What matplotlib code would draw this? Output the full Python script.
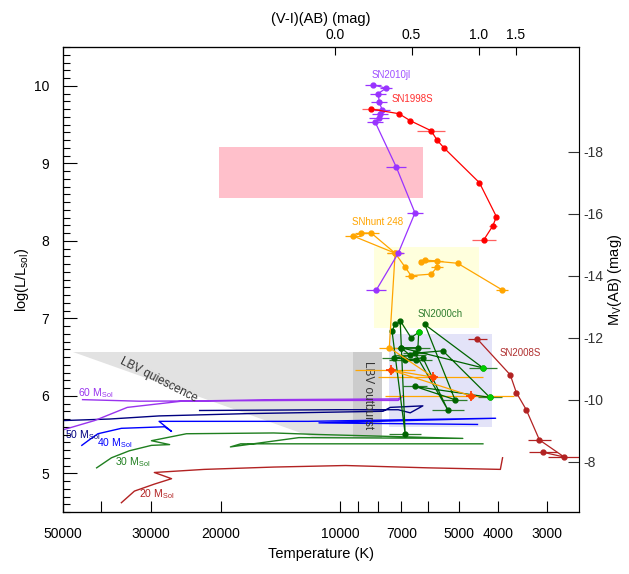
import numpy as np
import matplotlib.pyplot as plt

plt.rcParams['font.family'] = ['Liberation Sans', 'DejaVu Sans']
plt.rcParams['mathtext.default'] = 'regular'
plt.rcParams['axes.unicode_minus'] = False

# --- SN data (temperature K, log L/Lsun, half error in dex) ---
jl_T = [8240, 7650, 8010, 7960, 7830, 7920, 7960, 8150, 7210, 6470, 7130, 8110]
jl_L = [10.01, 9.97, 9.90, 9.79, 9.69, 9.64, 9.59, 9.53, 8.95, 8.36, 7.84, 7.36]
jl_e = [0.02, 0.015, 0.02, 0.02, 0.02, 0.02, 0.025, 0.02, 0.025, 0.02, 0.015, 0.025]

s98_T = [8340, 7100, 6650, 5890, 5690, 5470, 4450, 4030, 4120, 4340]
s98_L = [9.70, 9.64, 9.55, 9.42, 9.30, 9.20, 8.75, 8.31, 8.19, 8.01]
s98_e = [0.023, 0, 0, 0.035, 0, 0, 0, 0, 0.01, 0.03]

h248_T = [4680, 7430, 5820, 7510, 7260, 9250, 8830, 8340, 7260, 6850, 6620, 5890,
          5690, 5690, 6250, 6110, 5050, 3910]
h248_L = [6.00, 6.33, 6.24, 6.62, 7.84, 8.06, 8.10, 8.10, 7.84, 7.66, 7.55, 7.57,
          7.66, 7.74, 7.72, 7.75, 7.71, 7.37]
# errors toward hot side / cool side (dex)
h248_elo = [0.216, 0.09, 0.138, 0.025, 0.02, 0.02, 0.015, 0.02, 0.02, 0.0, 0.015, 0.0,
            0.015, 0.015, 0.0, 0.015, 0.0, 0.015]
h248_ehi = [0.11, 0.06, 0.125, 0.02, 0.02, 0.02, 0.015, 0.02, 0.02, 0.0, 0.015, 0.0,
            0.015, 0.015, 0.0, 0.015, 0.0, 0.015]
h248_red = [0, 1, 2]

ch_T = [7260, 7390, 6850, 7050, 6620, 6330, 6360, 7010, 6650, 7300, 6430, 6850,
        6180, 5350, 6470, 5500, 4190, 6470, 5130, 6110, 4360, 7010]
ch_L = [6.93, 6.83, 5.51, 6.97, 6.75, 6.82, 6.62, 6.62, 6.52, 6.49, 6.46, 6.46,
        6.49, 5.82, 6.55, 6.58, 5.98, 6.12, 5.95, 6.92, 6.36, 6.62]
ch_e = [0.0, 0.0, 0.04, 0.0, 0.0, 0.0, 0.03, 0.035, 0.04, 0.03, 0.04, 0.04,
        0.0, 0.04, 0.03, 0.0, 0.03, 0.03, 0.03, 0.0, 0.035, 0.0]
ch_lime = [5, 16, 20]

s08_T = [4500, 3720, 3590, 3390, 3140, 2720, 3070]
s08_L = [6.73, 6.27, 6.04, 5.82, 5.43, 5.21, 5.27]
s08_e = [0.025, 0, 0, 0, 0.03, 0.04, 0.035]

# --- evolutionary tracks ---
t20_T = [35600, 33000, 29400, 26600, 29400, 22000, 14700, 9680, 6000, 3940, 3890]
t20_L = [4.62, 4.77, 4.86, 4.93, 5.01, 5.05, 5.08, 5.10, 5.07, 5.05, 5.20]
t30_T = [41100, 37700, 34000, 29900, 26900, 29900, 24400, 14700, 11300, 4900, 12700,
         18900, 17800, 4360]
t30_L = [5.07, 5.20, 5.29, 5.36, 5.37, 5.42, 5.51, 5.52, 5.50, 5.45, 5.46, 5.34, 5.38, 5.38]
t40_T = [44800, 43200, 40800, 35600, 27700, 26600, 28600, 12000, 4050, 11300, 4500]
t40_L = [5.36, 5.42, 5.51, 5.58, 5.60, 5.54, 5.67, 5.67, 5.71, 5.65, 5.63]
t50_T = [50000, 38100, 28600, 17000, 7790, 7470, 6180, 6650, 7130, 10090, 22600]
t50_L = [5.68, 5.70, 5.74, 5.77, 5.80, 5.85, 5.87, 5.78, 5.82, 5.82, 5.81]
t60_T = [50000, 41600, 34400, 25100, 14700, 7130, 6930, 7130, 12400, 32100, 44600]
t60_L = [5.56, 5.68, 5.85, 5.93, 5.95, 5.96, 6.00, 5.94, 5.94, 5.93, 5.95]

# --- shaded regions ---
pink_T, pink_L = [20200, 6180], [8.55, 9.21]
yel_T, yel_L = [8200, 4450], [6.87, 7.92]
lav_T, lav_L = [7510, 4140], [5.60, 6.80]
out_T, out_L = [9250, 7830], [5.46, 6.57]
qui_T = [47200, 7830, 7830, 11530]
qui_L = [6.57, 6.57, 5.46, 5.46]

xticks = [50000, 40000, 30000, 20000, 10000, 9000, 8000, 7000, 6000, 5000, 4000, 3000]
xlabels = ['50000', '', '30000', '20000', '10000', '', '', '7000', '', '5000', '4000', '3000']
vi_T = [10300, 6600, 4470, 3600]
vi_lab = ['0.0', '0.5', '1.0', '1.5']
M0 = 4.87  # M_V = M0 - 2.5 log L


def xerr(T, elo, ehi=None):
    T = np.array(T, float)
    elo = np.array(elo, float)
    ehi = elo if ehi is None else np.array(ehi, float)
    # hot side is larger T
    return [T - T * 10 ** -ehi, T * 10 ** elo - T]


fig = plt.figure(figsize=(6.29, 5.74), dpi=100)
ax = fig.add_axes([0.100, 0.108, 0.820, 0.810])
ax.set_xscale('log')

def box(T, L, c, z=0):
    ax.fill([T[0], T[1], T[1], T[0]], [L[0], L[0], L[1], L[1]], color=c, lw=0, zorder=z)

box(pink_T, pink_L, '#ffc0cb')
box(yel_T, yel_L, '#ffffdd')
box(lav_T, lav_L, '#e3e3f8')
ax.fill(qui_T, qui_L, color='#e2e2e2', lw=0, zorder=0)
box(out_T, out_L, '#cccccc', z=0.5)
ax.text(28600, 6.20, 'LBV quiescence', rotation=-27, ha='center', va='center',
        fontsize=8.5, color='#333333')
ax.text(8500, 6.01, 'LBV outburst', rotation=270, ha='center', va='center',
        fontsize=8.5, color='#333333')

# tracks
for T, L, c in [(t20_T, t20_L, '#b22222'), (t30_T, t30_L, '#1f7f1f'), (t40_T, t40_L, '#0000ff'),
                (t50_T, t50_L, '#000080'), (t60_T, t60_L, '#9933ee')]:
    ax.plot(T, L, color=c, lw=1.0, zorder=2)

ax.text(45800, 6.04, '60 M$_{Sol}$', color='#9933ee', fontsize=7.5, va='center')
ax.text(49400, 5.49, '50 M$_{Sol}$', color='#000080', fontsize=7.5, va='center')
ax.text(41100, 5.39, '40 M$_{Sol}$', color='#0000ff', fontsize=7.5, va='center')
ax.text(37000, 5.14, '30 M$_{Sol}$', color='#1f7f1f', fontsize=7.5, va='center')
ax.text(32100, 4.73, '20 M$_{Sol}$', color='#b22222', fontsize=7.5, va='center')

# SNe
def sn(T, L, err, c, ecol=None):
    ax.errorbar(T, L, xerr=err, color=c, ecolor=ecol or c, lw=0.9, elinewidth=0.9,
                marker='o', ms=3.5, capsize=0, zorder=3)

sn(ch_T, ch_L, xerr(ch_T, ch_e), '#006400', '#2e7d2e')
ax.plot([ch_T[i] for i in ch_lime], [ch_L[i] for i in ch_lime], 'o', color='#00cc00', ms=3.5, zorder=4)
sn(h248_T, h248_L, xerr(h248_T, h248_elo, h248_ehi), '#ffa500')
ax.plot([h248_T[i] for i in h248_red], [h248_L[i] for i in h248_red], '+', color='#ff3300',
        ms=7, mew=1.2, zorder=4)
ax.plot([h248_T[i] for i in h248_red], [h248_L[i] for i in h248_red], 'o', color='#ff4500',
        ms=3.5, zorder=4)
sn(jl_T, jl_L, xerr(jl_T, jl_e), '#9933ff')
sn(s98_T, s98_L, xerr(s98_T, s98_e), '#ff0000', '#ff6060')
sn(s08_T, s08_L, xerr(s08_T, s08_e), '#b22222')

ax.text(7430, 10.14, 'SN2010jl', color='#a050ff', fontsize=7, ha='center', va='center')
ax.text(6550, 9.83, 'SN1998S', color='#ff3030', fontsize=7, ha='center', va='center')
ax.text(8050, 8.24, 'SNhunt 248', color='#ffa500', fontsize=7, ha='center', va='center')
ax.text(5600, 7.06, 'SN2000ch', color='#2e7d2e', fontsize=7, ha='center', va='center')
ax.text(3520, 6.55, 'SN2008S', color='#b03030', fontsize=7, ha='center', va='center')

ax.set_xlim(50000, 2500)
ax.set_ylim(4.5, 10.5)
ax.set_xticks(xticks)
ax.set_xticklabels(xlabels)
ax.xaxis.set_minor_locator(plt.NullLocator())
ax.set_yticks([5, 6, 7, 8, 9, 10])
ax.set_yticks(np.arange(4.5, 10.51, 0.1), minor=True)
ax.tick_params(axis='x', direction='in', length=8, width=0.8, labelsize=10, pad=11, top=False)
ax.tick_params(axis='y', which='major', direction='in', length=10, width=0.8, labelsize=10,
               pad=10, right=False)
ax.tick_params(axis='y', which='minor', direction='in', length=5, width=0.8, right=False)
ax.set_xlabel('Temperature (K)', fontsize=10.5)
ax.set_ylabel('log(L/L$_{sol}$)', fontsize=10.5, labelpad=2)
ax.spines['right'].set_visible(False)

ax2 = ax.twinx()
ax2.set_ylim(M0 - 2.5 * 4.5, M0 - 2.5 * 10.5)
ax2.set_yticks([-18, -16, -14, -12, -10, -8])
ax2.tick_params(axis='y', direction='in', length=8, width=0.8, labelsize=10, colors='#333333')
ax2.spines['right'].set_color('#888888')
ax2.set_ylabel('M$_V$(AB) (mag)', fontsize=10.5, labelpad=2)

ax3 = ax.twiny()
ax3.set_xscale('log')
ax3.set_xlim(50000, 2500)
ax3.set_xticks(vi_T)
ax3.set_xticklabels(vi_lab)
ax3.xaxis.set_minor_locator(plt.NullLocator())
ax3.tick_params(axis='x', direction='in', length=6, width=0.8, labelsize=10)
ax3.set_xlabel('(V-I)(AB) (mag)', fontsize=10.5)

fig.savefig('out.png', dpi=100)
